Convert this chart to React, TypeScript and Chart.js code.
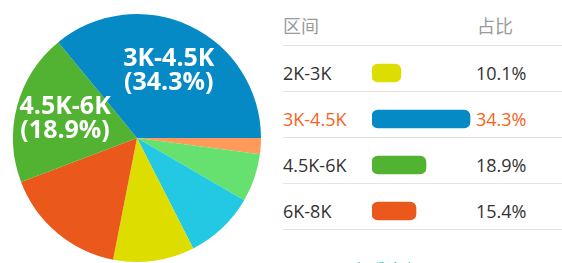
import React, { useEffect, useRef } from "react";
import { Chart, registerables } from "chart.js";

Chart.register(...registerables);

// Pie data (sorted descending, drawn counter-clockwise from 3 o'clock)
const pieCategories = ["3K-4.5K", "4.5K-6K", "6K-8K", "2K-3K", "8K-10K", "10K-15K", "15K以上"];
const piePercents = [34.3, 18.9, 15.4, 10.1, 8.7, 6.0, 2.0];
const pieColors = ["#068ac6", "#52b232", "#eb581c", "#dddd00", "#23c9e3", "#66e16f", "#ff9a5a"];
const labelThreshold = 18;

// Table data
const headerLabels = ["区间", "占比"];
const tableCategories = ["2K-3K", "3K-4.5K", "4.5K-6K", "6K-8K"];
const tablePercents = [10.1, 34.3, 18.9, 15.4];
const tableColors = ["#dddd00", "#068ac6", "#52b232", "#eb581c"];
const highlightRow = 1;
const moreText = "查看全部";

const FONT = '"Open Sans", "Noto Sans CJK SC", sans-serif';

const pieLabelPlugin = {
  id: "pieLabels",
  afterDatasetsDraw(chart: any) {
    const ctx = chart.ctx;
    const meta = chart.getDatasetMeta(0);
    const labels = chart.data.labels;
    const values = chart.data.datasets[0].data;
    meta.data.forEach((arc: any, i: number) => {
      const v = values[i];
      if (v < labelThreshold) return;
      const { x, y, startAngle, endAngle, outerRadius } = arc.getProps(
        ["x", "y", "startAngle", "endAngle", "outerRadius"],
        true
      );
      const mid = (startAngle + endAngle) / 2;
      const r = outerRadius * 0.6;
      const lx = x + Math.cos(mid) * r;
      const ly = y + Math.sin(mid) * r;
      ctx.save();
      ctx.fillStyle = "#ffffff";
      ctx.font = 'bold 25px "Open Sans", sans-serif';
      ctx.textAlign = "center";
      ctx.textBaseline = "middle";
      ctx.fillText(labels[i], lx, ly - 12);
      ctx.fillText(`(${v.toFixed(1)}%)`, lx, ly + 12);
      ctx.restore();
    });
  },
};

export default function App() {
  const pieRef = useRef<HTMLCanvasElement>(null);
  const barRef = useRef<HTMLCanvasElement>(null);

  useEffect(() => {
    const pie = new Chart(pieRef.current!, {
      type: "pie",
      data: {
        labels: [...pieCategories].reverse(),
        datasets: [
          {
            data: [...piePercents].reverse(),
            backgroundColor: [...pieColors].reverse(),
            borderWidth: 0,
            hoverOffset: 0,
            offset: 0,
          } as any,
        ],
      },
      options: {
        responsive: false,
        animation: false,
        rotation: 90,
        layout: { padding: { left: 13, right: 13, top: 14, bottom: 14 } },
        plugins: { legend: { display: false }, tooltip: { enabled: false } },
        events: [],
      },
      plugins: [pieLabelPlugin],
    });

    const bar = new Chart(barRef.current!, {
      type: "bar",
      data: {
        labels: tableCategories,
        datasets: [
          {
            data: tablePercents,
            backgroundColor: tableColors,
            barThickness: 18,
            borderRadius: 6,
            borderSkipped: false,
          } as any,
        ],
      },
      options: {
        indexAxis: "y",
        responsive: false,
        animation: false,
        layout: { padding: 0 },
        scales: {
          x: { display: false, min: 0, max: 49 },
          y: { display: false },
        },
        plugins: { legend: { display: false }, tooltip: { enabled: false } },
        events: [],
      },
    });

    return () => {
      pie.destroy();
      bar.destroy();
    };
  }, []);

  const rowTop = (i: number) => 49.7 + 46 * i;

  return (
    <div
      style={{
        position: "fixed",
        left: 0,
        top: 0,
        width: 562,
        height: 263,
        overflow: "hidden",
        background: "#ffffff",
        fontFamily: FONT,
      }}
    >
      <canvas
        ref={pieRef}
        width={274}
        height={276}
        style={{ position: "absolute", left: 0, top: 0, width: 274, height: 276 }}
      />
      {/* header */}
      <div style={{ position: "absolute", left: 283, top: 3, height: 46, lineHeight: "46px", fontSize: 18, color: "#9a9a9a" }}>
        {headerLabels[0]}
      </div>
      <div style={{ position: "absolute", left: 477, top: 3, height: 46, lineHeight: "46px", fontSize: 18, color: "#9a9a9a" }}>
        {headerLabels[1]}
      </div>
      {/* separator lines */}
      {[0, 1, 2, 3, 4].map((i) => (
        <div
          key={"l" + i}
          style={{ position: "absolute", left: 283, top: 45 + 46 * i, width: 279, height: 1, background: "#e3e3e3" }}
        />
      ))}
      {/* rows */}
      {tableCategories.map((c, i) => (
        <React.Fragment key={c}>
          <div
            style={{
              position: "absolute",
              left: 283,
              top: rowTop(i),
              height: 46,
              lineHeight: "46px",
              fontSize: 18,
              color: i === highlightRow ? "#f5641e" : "#333333",
              whiteSpace: "nowrap",
            }}
          >
            {c}
          </div>
          <div
            style={{
              position: "absolute",
              left: 476,
              top: rowTop(i),
              height: 46,
              lineHeight: "46px",
              fontSize: 18,
              color: i === highlightRow ? "#f5641e" : "#333333",
              whiteSpace: "nowrap",
            }}
          >
            {tablePercents[i].toFixed(1) + "%"}
          </div>
        </React.Fragment>
      ))}
      <canvas
        ref={barRef}
        width={140}
        height={184}
        style={{ position: "absolute", left: 372, top: 50, width: 140, height: 184 }}
      />
      <div
        style={{
          position: "absolute",
          left: 350,
          top: 262,
          fontSize: 18,
          lineHeight: "18px",
          color: "#16a497",
          whiteSpace: "nowrap",
        }}
      >
        {moreText}
      </div>
    </div>
  );
}
